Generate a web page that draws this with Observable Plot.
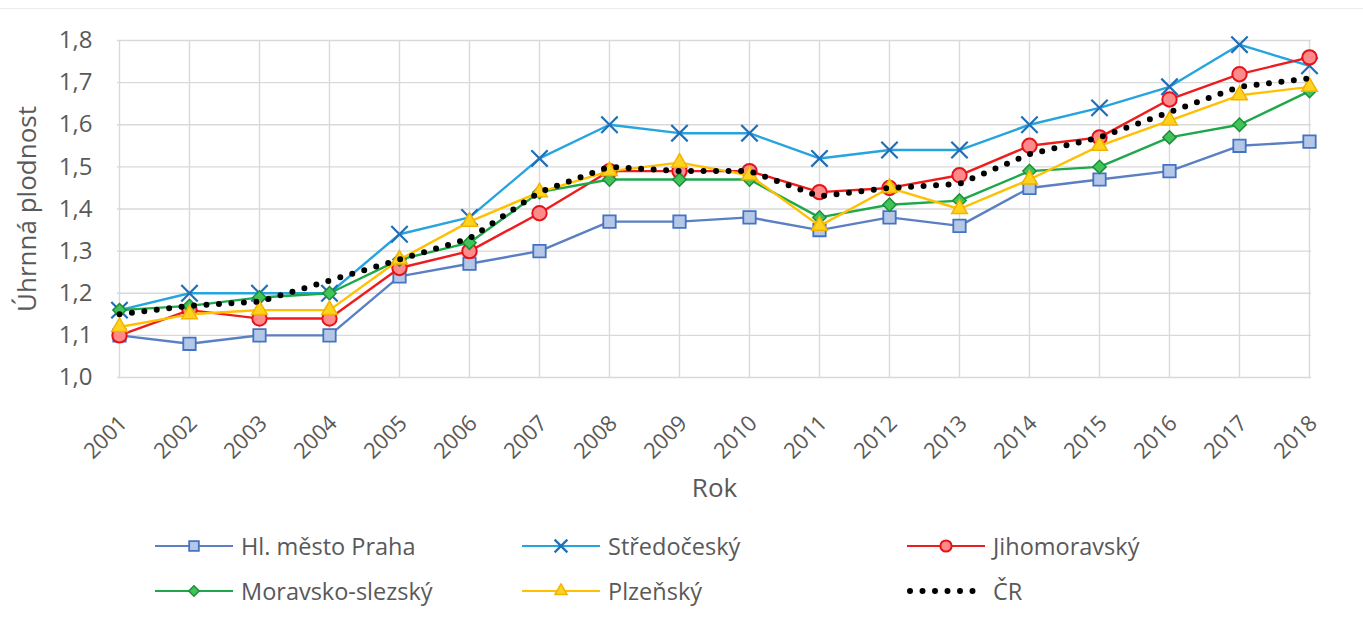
<!DOCTYPE html>
<html>
<head>
<meta charset="utf-8">
<script src="https://cdn.jsdelivr.net/npm/d3@7"></script>
<script src="https://cdn.jsdelivr.net/npm/@observablehq/plot@0.6"></script>
<style>
  html, body { margin: 0; padding: 0; background: #fff; }
  #wrap { position: relative; width: 1363px; height: 628px; font-family: "Open Sans", Lato, sans-serif; color: #595959; }
  #topline { position: absolute; left: 0; top: 8px; width: 1363px; height: 1px; background: #ececec; }
  #chart { position: absolute; left: 0; top: 0; }
  .leg { position: absolute; display: flex; align-items: center; font-size: 23.5px; color: #595959; white-space: nowrap; }
  .leg svg { margin-right: 8px; overflow: visible; }
</style>
</head>
<body>
<div id="wrap">
  <div id="topline"></div>
  <div id="chart"></div>
  <div id="legend"></div>
</div>
<script>
const years = [2001,2002,2003,2004,2005,2006,2007,2008,2009,2010,2011,2012,2013,2014,2015,2016,2017,2018];
const praha        = [1.10,1.08,1.10,1.10,1.24,1.27,1.30,1.37,1.37,1.38,1.35,1.38,1.36,1.45,1.47,1.49,1.55,1.56];
const stredocesky  = [1.16,1.20,1.20,1.20,1.34,1.38,1.52,1.60,1.58,1.58,1.52,1.54,1.54,1.60,1.64,1.69,1.79,1.74];
const jihomoravsky = [1.10,1.16,1.14,1.14,1.26,1.30,1.39,1.49,1.49,1.49,1.44,1.45,1.48,1.55,1.57,1.66,1.72,1.76];
const moravskoslezsky = [1.16,1.17,1.19,1.20,1.28,1.32,1.44,1.47,1.47,1.47,1.38,1.41,1.42,1.49,1.50,1.57,1.60,1.68];
const plzensky     = [1.12,1.15,1.16,1.16,1.28,1.37,1.44,1.49,1.51,1.48,1.36,1.45,1.40,1.47,1.55,1.61,1.67,1.69];
const cr           = [1.15,1.17,1.18,1.23,1.28,1.33,1.44,1.50,1.49,1.49,1.43,1.45,1.46,1.53,1.57,1.63,1.69,1.71];
const yTicks = [1.0,1.1,1.2,1.3,1.4,1.5,1.6,1.7,1.8];
const seriesNames = ["Hl. město Praha","Středočeský","Jihomoravský","Moravsko-slezský","Plzeňský","ČR"];
const yTitle = "Úhrnná plodnost";
const xTitle = "Rok";

const styles = [
  {name: seriesNames[0], values: praha, line: "#5a7fc2", symbol: "square", fill: "#b4c7e7", mstroke: "#4472c4", r: 7, msw: 1.8},
  {name: seriesNames[1], values: stredocesky, line: "#26a4de", symbol: "times", fill: "none", mstroke: "#1f6fb8", r: 7.5, msw: 2.2},
  {name: seriesNames[2], values: jihomoravsky, line: "#ee1c1c", symbol: "circle", fill: "#ff8a8a", mstroke: "#e3131b", r: 7.2, msw: 2},
  {name: seriesNames[3], values: moravskoslezsky, line: "#1ea84a", symbol: "diamond2", fill: "#43c25a", mstroke: "#1a8f3a", r: 6, msw: 1.5},
  {name: seriesNames[4], values: plzensky, line: "#ffc000", symbol: "triangle", fill: "#ffd21f", mstroke: "#f2b300", r: 5.8, msw: 1.5}
];

const toRows = (vals) => years.map((y, i) => ({year: y, value: vals[i]}));
const fmt = d => d.toFixed(1).replace(".", ",");

const marks = [
  Plot.gridX({stroke: "#d9d9d9", strokeOpacity: 1, strokeWidth: 1.4}),
  Plot.gridY(yTicks, {stroke: "#d9d9d9", strokeOpacity: 1, strokeWidth: 1.4}),
  Plot.axisY(yTicks, {tickFormat: fmt, tickSize: 0, tickPadding: 25, fontSize: 24, fill: "#595959", label: null}),
  Plot.axisX({tickFormat: d => String(d), tickRotate: -45, tickSize: 0, tickPadding: 36, dx: 4, dy: 6, fontSize: 22, fill: "#595959", label: null}),
  Plot.text([yTitle], {frameAnchor: "left", textAnchor: "middle", dx: -90, rotate: -90, fontSize: 26, fill: "#595959"}),
  Plot.text([xTitle], {frameAnchor: "bottom", dy: 119, fontSize: 26, fill: "#595959"})
];
for (const s of styles) {
  const rows = toRows(s.values);
  marks.push(Plot.line(rows, {x: "year", y: "value", stroke: s.line, strokeWidth: 2.4}));
  marks.push(Plot.dot(rows, {x: "year", y: "value", symbol: () => s.symbol, r: s.r,
    fill: s.fill, stroke: s.mstroke, strokeWidth: s.msw}));
}
marks.push(Plot.line(toRows(cr), {x: "year", y: "value", stroke: "#000", strokeWidth: 6,
  strokeDasharray: "0 12.5", strokeLinecap: "round"}));

const chart = Plot.plot({
  width: 1363,
  height: 515,
  marginTop: 40,
  marginBottom: 138,
  marginLeft: 117,
  marginRight: 52,
  style: {fontFamily: "'Open Sans', Lato, sans-serif", background: "transparent", overflow: "visible"},
  x: {type: "point", domain: years, padding: 0},
  y: {domain: [1.0, 1.8]},
  symbol: {type: "identity"},
  marks
});
document.getElementById("chart").appendChild(chart);

// legend
const legendPos = [
  {left: 155, top: 546}, {left: 522, top: 546}, {left: 907, top: 546},
  {left: 155, top: 591}, {left: 522, top: 591}, {left: 907, top: 591}
];
const legendOrder = [0, 1, 2, 3, 4, 5];
const symMap = {square: d3.symbolSquare, times: d3.symbolTimes, circle: d3.symbolCircle, diamond2: d3.symbolDiamond2, triangle: d3.symbolTriangle};
const legend = document.getElementById("legend");
legendOrder.forEach((idx, k) => {
  const pos = legendPos[k];
  const div = document.createElement("div");
  div.className = "leg";
  div.style.left = pos.left + "px";
  div.style.top = (pos.top - 15) + "px";
  div.style.height = "30px";
  const w = 78;
  let svg;
  if (idx < 5) {
    const s = styles[idx];
    const rr = s.r * 0.78;
    const path = d3.symbol(symMap[s.symbol], Math.PI * rr * rr)();
    svg = `<svg width="${w}" height="30"><line x1="0" x2="${w}" y1="15" y2="15" stroke="${s.line}" stroke-width="2.2"/>` +
      `<path d="${path}" transform="translate(${w/2},15)" fill="${s.fill}" stroke="${s.mstroke}" stroke-width="${s.msw}"/></svg>`;
  } else {
    svg = `<svg width="${w}" height="30"><line x1="3" x2="${w}" y1="15" y2="15" stroke="#000" stroke-width="6" stroke-dasharray="0 12.5" stroke-linecap="round"/></svg>`;
  }
  div.innerHTML = svg + `<span>${seriesNames[idx]}</span>`;
  legend.appendChild(div);
});
</script>
</body>
</html>
